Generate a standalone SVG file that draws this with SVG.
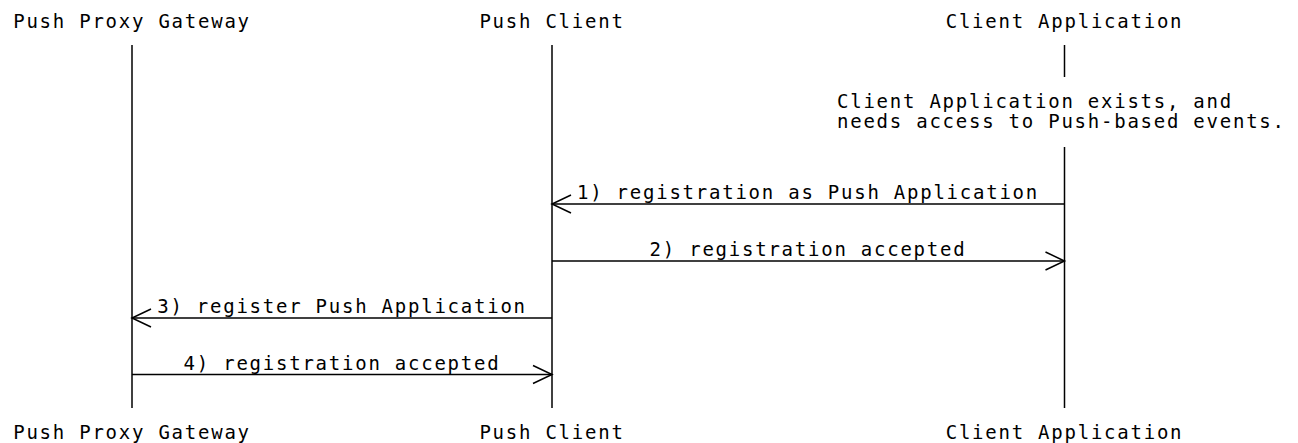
<svg xmlns="http://www.w3.org/2000/svg" width="1298" height="443" viewBox="0 0 1298 443">
<style>
  text { font-family: "DejaVu Sans Mono", "Liberation Mono", monospace; font-size: 19px; letter-spacing: 1.76px; fill: #000; }
  .mid { text-anchor: middle; }
  .life { stroke: #000; stroke-width: 1.5; fill: none; }
  .msg { stroke: #000; stroke-width: 1.5; fill: none; marker-end: url(#open); }
</style>
<defs>
  <marker id="open" markerUnits="userSpaceOnUse" markerWidth="24" markerHeight="24" viewBox="-21 -11 24 22" refX="0" refY="0" orient="auto" overflow="visible">
    <path d="M-19,-9 L0,0 L-19,9" fill="none" stroke="#000" stroke-width="1.5"/>
  </marker>
</defs>
<rect width="1298" height="443" fill="#fff"/>
<g id="ppg">
  <text class="mid" x="132" y="27.5">Push Proxy Gateway</text>
  <line class="life" x1="132" y1="45" x2="132" y2="408"/>
  <text class="mid" x="132" y="439">Push Proxy Gateway</text>
</g>
<g id="pushclient">
  <text class="mid" x="552" y="27.5">Push Client</text>
  <line class="life" x1="552" y1="45" x2="552" y2="408"/>
  <text class="mid" x="552" y="439">Push Client</text>
</g>
<g id="clientapp">
  <text class="mid" x="1064.5" y="27.5">Client Application</text>
  <line class="life" x1="1064.5" y1="45" x2="1064.5" y2="77"/>
  <line class="life" x1="1064.5" y1="147" x2="1064.5" y2="408"/>
  <text class="mid" x="1064.5" y="439">Client Application</text>
</g>
<g id="note">
  <text x="837" y="107.5">Client Application exists, and</text>
  <text x="837" y="128">needs access to Push-based events.</text>
</g>
<g id="connectors">
  <line class="msg" x1="1064.5" y1="204" x2="552" y2="204"/>
  <text class="mid" x="808" y="199">1) registration as Push Application</text>
  <line class="msg" x1="552" y1="261" x2="1064.5" y2="261"/>
  <text class="mid" x="808" y="256">2) registration accepted</text>
  <line class="msg" x1="552" y1="318" x2="132" y2="318"/>
  <text class="mid" x="342" y="313">3) register Push Application</text>
  <line class="msg" x1="132" y1="374.5" x2="552" y2="374.5"/>
  <text class="mid" x="342" y="369.5">4) registration accepted</text>
</g>
</svg>
